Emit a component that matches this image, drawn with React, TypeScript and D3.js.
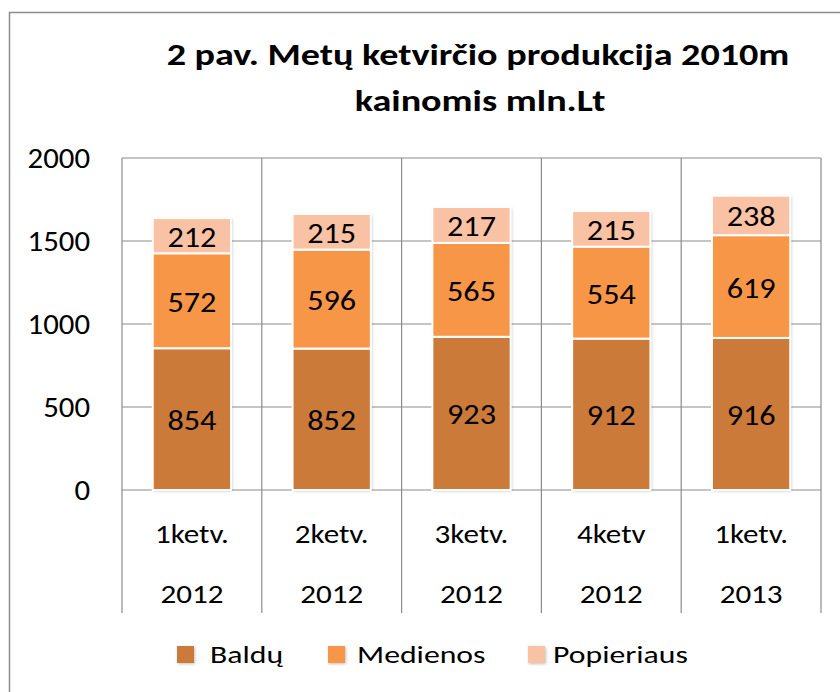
import React from "react";
import * as d3 from "d3";

const categories = ["1ketv.|2012", "2ketv.|2012", "3ketv.|2012", "4ketv|2012", "1ketv.|2013"];
const seriesNames = ["Baldų", "Medienos", "Popieriaus"];
const baldu = [854, 852, 923, 912, 916];
const medienos = [572, 596, 565, 554, 619];
const popieriaus = [212, 215, 217, 215, 238];
const yTicks = [0, 500, 1000, 1500, 2000];
const colors = ["#CB7A3A", "#F79646", "#FAC2A4"];

const W = 840, H = 692;
const plot = { left: 122, right: 821, top: 158, bottom: 490 };
const FONT = "Carlito, Lato, sans-serif";

function T({ x, y, sx = 1, size, anchor = "middle", weight = "normal", children }: any) {
  return (
    <text transform={`translate(${x},${y}) scale(${sx},1)`} textAnchor={anchor} fontSize={size} fontWeight={weight} fill="#000">
      {children}
    </text>
  );
}

export default function App() {
  const rows = categories.map((c, i) => ({ cat: c, [seriesNames[0]]: baldu[i], [seriesNames[1]]: medienos[i], [seriesNames[2]]: popieriaus[i] }));
  const stack = d3.stack<any>().keys(seriesNames)(rows);
  const x = d3.scaleBand().domain(categories).range([plot.left, plot.right]).paddingInner(0).paddingOuter(0);
  const y = d3.scaleLinear().domain([0, 2000]).range([plot.bottom, plot.top]);
  const bw = x.bandwidth() * 0.56;
  const grid = "#8c8c8c";
  const legendSq = [177, 328, 528];
  const legendTx = [210, 357, 553];

  return (
    <svg width={W} height={H} style={{ position: "absolute", left: 0, top: 0, background: "#fff" }} fontFamily={FONT}>
      <defs>
        <filter id="sh" x="-20%" y="-20%" width="140%" height="140%">
          <feDropShadow dx="1" dy="1" stdDeviation="1.5" floodColor="#000" floodOpacity="0.25" />
        </filter>
      </defs>
      <rect x={9.5} y={12.5} width={W} height={H} fill="#fff" stroke="#8c8c8c" strokeWidth={1.5} />
      <T x={478} y={65} sx={1.23} size={31} weight="bold">2 pav. Metų ketvirčio produkcija 2010m</T>
      <T x={480} y={111} sx={1.23} size={31} weight="bold">kainomis mln.Lt</T>

      {yTicks.map(t => (
        <g key={t}>
          <line x1={plot.left} x2={plot.right} y1={y(t)} y2={y(t)} stroke={grid} strokeWidth={1.2} />
          <T x={90} y={y(t) + 10} sx={1.1} size={28} anchor="end">{t}</T>
        </g>
      ))}
      {d3.range(categories.length + 1).map(i => {
        const xx = plot.left + i * x.step();
        return <line key={i} x1={xx} x2={xx} y1={plot.top} y2={613} stroke={grid} strokeWidth={1.2} />;
      })}

      {categories.map(c => {
        const cx = (x(c) as number) + x.bandwidth() / 2;
        const [a, b] = c.split("|");
        return (
          <g key={c}>
            <T x={cx} y={543} sx={1.15} size={27}>{a}</T>
            <T x={cx} y={603} sx={1.15} size={27}>{b}</T>
          </g>
        );
      })}

      {categories.map((c, i) => {
        const cx = (x(c) as number) + x.bandwidth() / 2;
        const top = y(stack[stack.length - 1][i][1]);
        return <rect key={"s" + i} x={cx - bw / 2} y={top} width={bw} height={plot.bottom - top} fill="#fff" filter="url(#sh)" />;
      })}

      {stack.map((s, si) => (
        <g key={s.key}>
          {s.map((d, i) => {
            const cx = (x(categories[i]) as number) + x.bandwidth() / 2;
            const y0 = y(d[0]), y1 = y(d[1]);
            return (
              <g key={i}>
                <rect x={cx - bw / 2} y={y1} width={bw} height={y0 - y1} fill={colors[si]} stroke="#fff" strokeWidth={2} />
                <T x={cx} y={(y0 + y1) / 2 + 11} sx={1.11} size={29}>{d[1] - d[0]}</T>
              </g>
            );
          })}
        </g>
      ))}

      {seriesNames.map((n, i) => (
        <g key={n}>
          <rect x={legendSq[i]} y={646} width={17} height={17} fill={colors[i]} filter="url(#sh)" />
          <T x={legendTx[i]} y={663} sx={1.27} size={25} anchor="start">{n}</T>
        </g>
      ))}
    </svg>
  );
}
